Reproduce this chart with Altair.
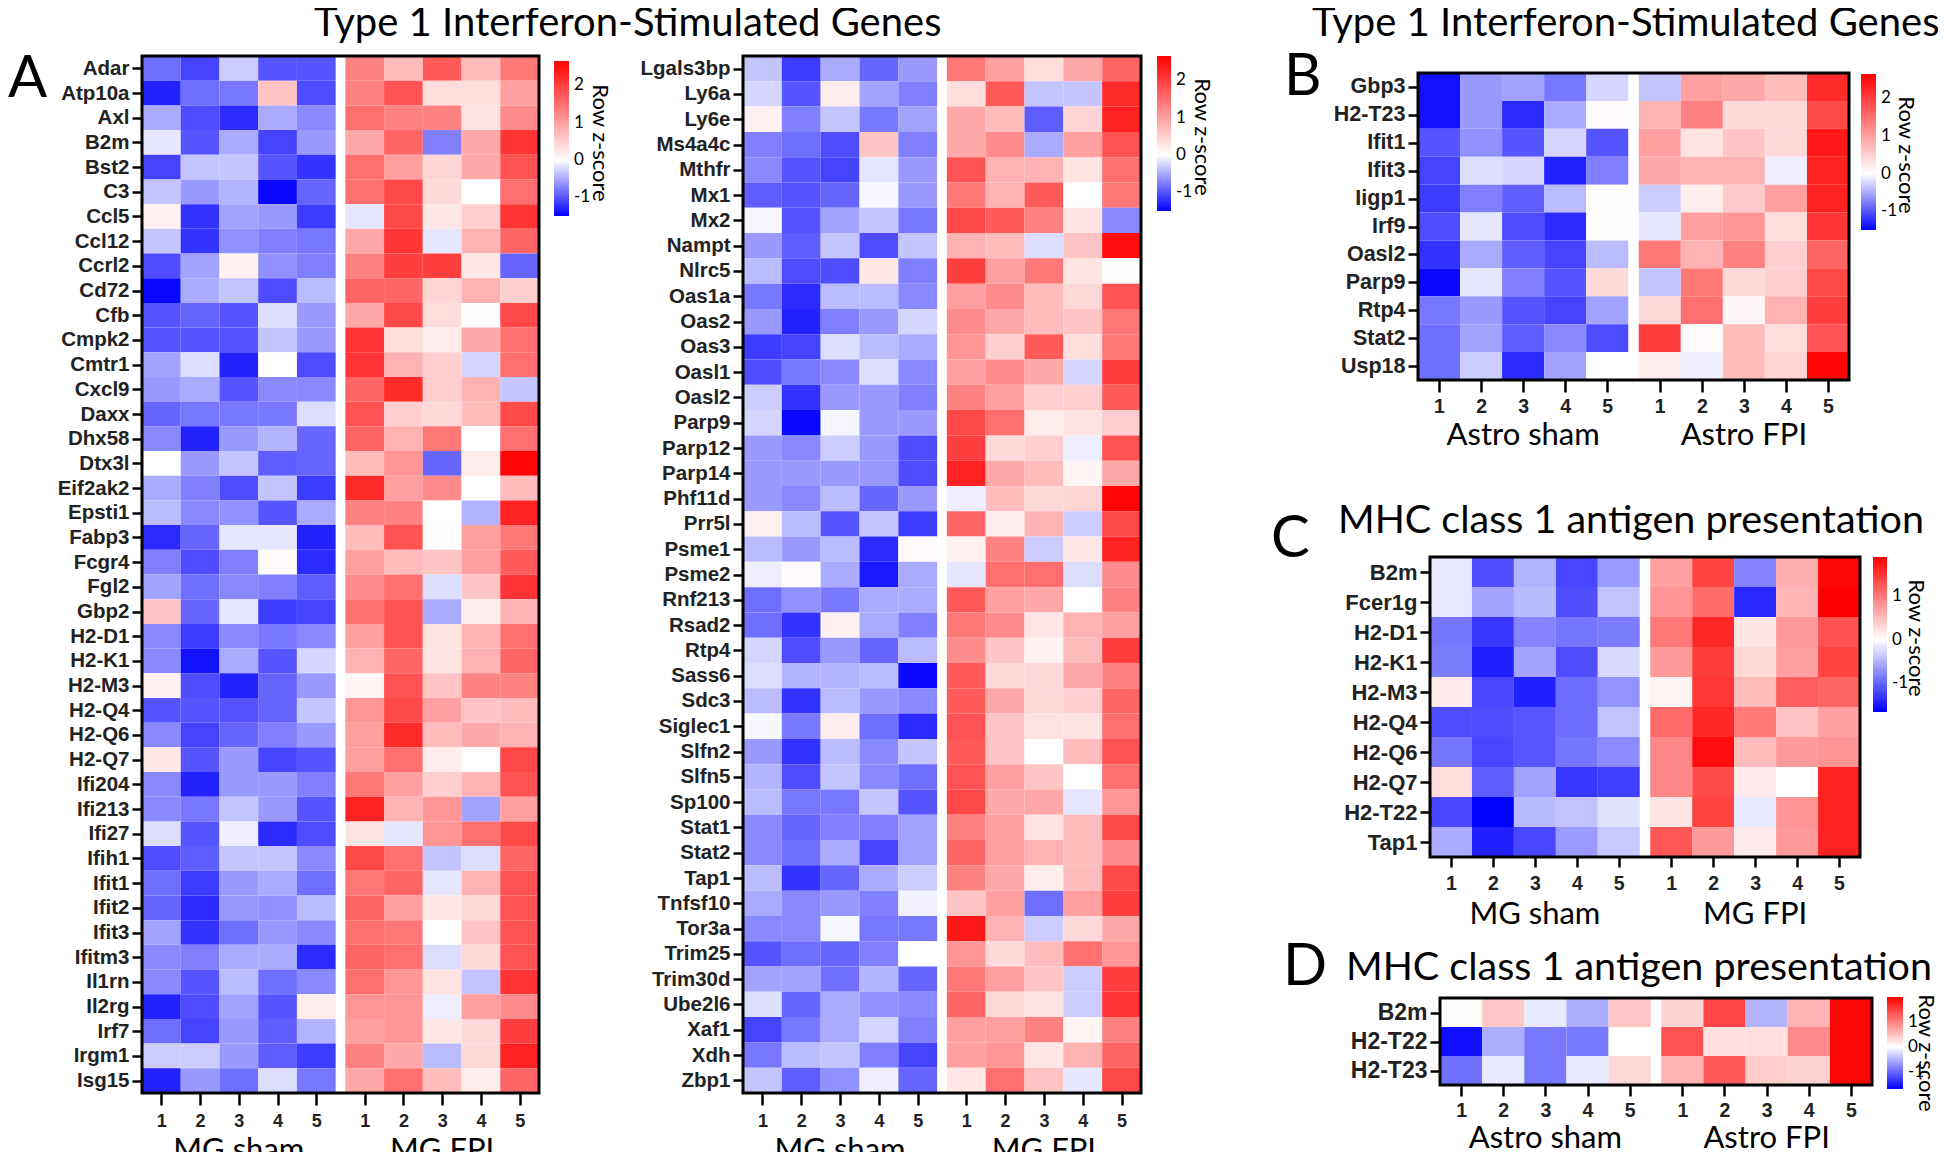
import altair as alt
import pandas as pd

W, H = 1930, 1144
OX, OY = 8, 8
GAP = 0.25
BLUE, WHITE, RED = "#0000ff", "#ffffff", "#ff0000"

# ---------------- data ----------------
A1_GENES = ["Adar", "Atp10a", "Axl", "B2m", "Bst2", "C3", "Ccl5", "Ccl12", "Ccrl2", "Cd72",
            "Cfb", "Cmpk2", "Cmtr1", "Cxcl9", "Daxx", "Dhx58", "Dtx3l", "Eif2ak2", "Epsti1",
            "Fabp3", "Fcgr4", "Fgl2", "Gbp2", "H2-D1", "H2-K1", "H2-M3", "H2-Q4", "H2-Q6",
            "H2-Q7", "Ifi204", "Ifi213", "Ifi27", "Ifih1", "Ifit1", "Ifit2", "Ifit3", "Ifitm3",
            "Il1rn", "Il2rg", "Irf7", "Irgm1", "Isg15"]
A1_SHAM = [
    [-0.85, -1.1, -0.3, -1.0, -1.0], [-1.3, -0.85, -0.8, 0.6, -1.05], [-0.5, -1.05, -1.25, -0.5, -0.7],
    [-0.15, -1.0, -0.5, -1.1, -0.6], [-1.1, -0.35, -0.35, -1.0, -1.2], [-0.35, -0.6, -0.45, -1.45, -0.9],
    [0.15, -1.2, -0.55, -0.6, -1.15], [-0.35, -1.2, -0.65, -0.75, -0.8], [-1.05, -0.55, 0.15, -0.65, -0.75],
    [-1.45, -0.5, -0.35, -1.05, -0.4], [-1.0, -0.9, -1.0, -0.2, -0.6], [-1.0, -1.0, -1.0, -0.35, -0.6],
    [-0.55, -0.2, -1.3, 0.0, -1.05], [-0.6, -0.5, -1.0, -0.7, -0.7], [-0.9, -0.8, -0.8, -0.8, -0.2],
    [-0.7, -1.3, -0.6, -0.45, -0.9], [0.0, -0.6, -0.35, -0.95, -0.9], [-0.5, -0.75, -1.05, -0.35, -1.15],
    [-0.4, -0.7, -0.65, -1.0, -0.5], [-1.25, -0.9, -0.15, -0.15, -1.3], [-0.75, -1.05, -0.75, 0.05, -1.25],
    [-0.55, -0.85, -0.7, -0.75, -0.95], [0.6, -0.9, -0.15, -1.15, -1.1], [-0.7, -1.15, -0.7, -0.8, -0.7],
    [-0.7, -1.4, -0.5, -1.0, -0.25], [0.15, -1.05, -1.3, -0.9, -0.6], [-1.0, -1.0, -1.0, -0.9, -0.35],
    [-0.7, -1.1, -0.9, -0.75, -0.6], [0.25, -1.0, -0.6, -1.1, -1.0], [-0.7, -1.3, -0.6, -0.6, -0.75],
    [-0.7, -0.8, -0.35, -0.6, -1.0], [-0.2, -1.0, -0.1, -1.25, -1.05], [-1.05, -0.95, -0.35, -0.35, -0.7],
    [-0.85, -1.15, -0.6, -0.5, -0.85], [-0.9, -1.25, -0.6, -0.65, -0.4], [-0.55, -1.2, -0.85, -0.6, -0.7],
    [-0.7, -0.75, -0.5, -0.5, -1.25], [-0.7, -1.0, -0.4, -0.85, -0.7], [-1.3, -1.05, -0.55, -1.0, 0.2],
    [-0.85, -1.1, -0.6, -0.95, -0.45], [-0.3, -0.3, -0.6, -0.95, -1.15], [-1.3, -0.6, -0.85, -0.2, -0.8],
]
A1_FPI = [
    [1.3, 0.7, 1.7, 0.7, 1.4], [1.3, 1.8, 0.35, 0.35, 1.0], [1.5, 1.3, 1.3, 0.3, 1.2],
    [0.9, 1.6, -0.75, 0.9, 2.1], [1.5, 1.0, 0.45, 0.9, 1.8], [1.5, 1.9, 0.4, 0.0, 1.5],
    [-0.15, 1.9, 0.25, 0.5, 2.1], [0.9, 2.1, -0.15, 0.8, 1.6], [1.3, 2.0, 2.0, 0.25, -0.9],
    [1.6, 1.6, 0.45, 0.8, 0.5], [0.9, 1.9, 0.35, 0.02, 1.9], [2.1, 0.35, 0.2, 0.9, 1.5],
    [2.1, 0.8, 0.5, -0.25, 1.5], [1.6, 2.2, 0.5, 0.8, -0.35], [1.8, 0.5, 0.4, 0.7, 1.9],
    [1.6, 0.8, 1.4, 0.0, 1.5], [0.7, 1.1, -0.9, 0.2, 2.6], [2.2, 1.0, 1.2, 0.0, 0.7],
    [1.3, 1.3, 0.0, -0.45, 2.3], [0.7, 1.8, 0.02, 1.0, 1.4], [1.0, 0.7, 0.6, 1.0, 1.7],
    [1.2, 1.5, -0.2, 0.6, 2.1], [1.5, 1.8, -0.5, 0.2, 0.8], [1.0, 1.8, 0.3, 0.8, 1.5],
    [0.8, 1.6, 0.3, 0.8, 1.6], [0.1, 1.8, 0.6, 1.3, 1.3], [1.1, 1.9, 1.0, 0.6, 0.7],
    [1.0, 2.2, 0.7, 0.9, 0.8], [1.0, 1.5, 0.2, 0.0, 1.9], [1.4, 1.0, 0.5, 0.8, 1.8],
    [2.3, 0.8, 1.1, -0.55, 1.0], [0.3, -0.15, 1.1, 1.5, 1.9], [1.9, 1.5, -0.35, -0.2, 1.6],
    [1.4, 1.6, -0.15, 0.8, 1.8], [1.6, 1.0, 0.25, 0.4, 1.8], [1.5, 1.4, 0.0, 0.6, 1.8],
    [1.6, 1.5, -0.2, 0.4, 1.8], [1.5, 1.1, 0.3, -0.35, 2.1], [1.1, 1.1, -0.1, 1.0, 1.2],
    [1.0, 1.1, 0.25, 0.4, 2.0], [1.3, 0.9, -0.4, 0.4, 2.3], [0.9, 1.5, 0.7, 0.2, 1.6],
]

A2_GENES = ["Lgals3bp", "Ly6a", "Ly6e", "Ms4a4c", "Mthfr", "Mx1", "Mx2", "Nampt", "Nlrc5", "Oas1a",
            "Oas2", "Oas3", "Oasl1", "Oasl2", "Parp9", "Parp12", "Parp14", "Phf11d", "Prr5l",
            "Psme1", "Psme2", "Rnf213", "Rsad2", "Rtp4", "Sass6", "Sdc3", "Siglec1", "Slfn2",
            "Slfn5", "Sp100", "Stat1", "Stat2", "Tap1", "Tnfsf10", "Tor3a", "Trim25", "Trim30d",
            "Ube2l6", "Xaf1", "Xdh", "Zbp1"]
A2_SHAM = [
    [-0.35, -1.15, -0.5, -0.9, -0.6], [-0.25, -1.0, 0.2, -0.55, -0.75], [0.15, -0.75, -0.35, -0.8, -0.55],
    [-0.75, -0.85, -1.05, 0.6, -0.75], [-0.7, -1.0, -1.1, -0.15, -0.6], [-0.95, -1.0, -0.9, -0.05, -0.6],
    [-0.05, -1.0, -0.55, -0.35, -0.8], [-0.6, -0.95, -0.35, -1.05, -0.35], [-0.4, -1.05, -1.05, 0.25, -0.75],
    [-0.8, -1.25, -0.4, -0.4, -0.7], [-0.6, -1.3, -0.75, -0.6, -0.25], [-1.15, -1.1, -0.2, -0.4, -0.5],
    [-1.05, -0.8, -0.7, -0.2, -0.7], [-0.3, -1.2, -0.6, -0.6, -0.75], [-0.25, -1.45, -0.05, -0.6, -0.6],
    [-0.6, -0.7, -0.3, -0.6, -1.05], [-0.6, -0.6, -0.6, -0.6, -1.05], [-0.6, -0.7, -0.4, -0.9, -0.6],
    [0.15, -0.4, -1.0, -0.35, -1.15], [-0.4, -0.6, -0.4, -1.25, 0.05], [-0.1, 0.05, -0.5, -1.35, -0.5],
    [-0.85, -0.65, -0.8, -0.5, -0.5], [-0.85, -1.2, 0.15, -0.5, -0.75], [-0.25, -1.05, -0.6, -0.9, -0.4],
    [-0.2, -0.45, -0.45, -0.4, -1.45], [-0.4, -1.2, -0.4, -0.6, -0.7], [-0.05, -0.8, 0.2, -0.85, -1.25],
    [-0.6, -1.2, -0.4, -0.7, -0.35], [-0.45, -1.05, -0.35, -0.7, -0.85], [-0.4, -0.8, -0.8, -0.35, -1.0],
    [-0.7, -0.9, -0.75, -0.75, -0.55], [-0.7, -0.85, -0.5, -1.1, -0.55], [-0.4, -1.2, -0.9, -0.5, -0.3],
    [-0.5, -0.7, -0.6, -0.75, -0.08], [-0.7, -0.7, -0.05, -0.8, -0.8], [-1.0, -0.85, -0.9, -0.75, 0.0],
    [-0.55, -0.55, -0.85, -0.45, -0.9], [-0.2, -0.9, -0.5, -0.65, -0.7], [-1.1, -0.8, -0.5, -0.25, -0.75],
    [-0.8, -0.4, -0.35, -0.75, -1.1], [-0.35, -0.95, -0.65, -0.1, -0.9],
]
A2_FPI = [
    [1.4, 1.0, 0.35, 0.9, 1.6], [0.35, 1.7, -0.35, -0.35, 2.2], [0.9, 0.7, -0.95, 0.45, 2.3],
    [0.9, 1.2, -0.5, 1.0, 1.8], [1.8, 0.8, 0.8, 0.3, 1.5], [1.4, 0.8, 1.7, 0.0, 1.4],
    [1.9, 1.7, 1.3, 0.3, -0.7], [0.8, 0.7, -0.2, 0.6, 2.5], [2.0, 1.0, 1.4, 0.3, 0.02],
    [1.0, 1.2, 0.7, 0.4, 1.8], [1.2, 0.9, 0.7, 0.6, 1.4], [1.1, 0.5, 1.7, 0.35, 1.4],
    [1.0, 1.2, 0.9, -0.25, 2.0], [1.3, 1.0, 0.5, 0.5, 1.7], [1.9, 1.5, 0.2, 0.3, 0.5],
    [2.0, 0.4, 0.5, -0.1, 1.8], [2.3, 0.9, 0.7, 0.1, 0.9], [-0.1, 0.7, 0.4, 0.45, 2.6],
    [1.6, 0.2, 0.8, -0.3, 1.9], [0.15, 1.3, -0.3, 0.25, 2.3], [-0.15, 1.5, 1.5, -0.2, 1.2],
    [1.7, 1.0, 0.9, 0.0, 1.3], [1.4, 1.2, 0.25, 0.8, 1.0], [1.2, 0.6, 0.15, 0.7, 2.0],
    [1.7, 0.4, 0.4, 0.9, 1.3], [1.7, 0.9, 0.4, 0.5, 1.6], [1.8, 0.6, 0.3, 0.3, 1.5],
    [1.7, 0.6, 0.0, 0.7, 1.8], [1.8, 1.0, 0.6, 0.0, 1.5], [1.9, 0.9, 0.9, -0.15, 1.1],
    [1.3, 1.0, 0.3, 0.7, 1.9], [1.6, 1.0, 0.8, 0.7, 1.2], [1.3, 0.9, 0.2, 0.7, 1.9],
    [0.6, 1.0, -0.85, 1.0, 2.0], [2.4, 0.8, -0.3, 0.4, 0.9], [1.1, 0.4, 0.7, 1.5, 1.1],
    [1.4, 1.0, 0.6, -0.3, 2.0], [1.6, 0.4, 0.3, -0.3, 2.1], [1.0, 1.0, 1.3, 0.1, 1.3],
    [1.0, 1.1, 0.25, 0.8, 1.6], [0.25, 1.5, 0.6, -0.15, 1.9],
]

B_GENES = ["Gbp3", "H2-T23", "Ifit1", "Ifit3", "Iigp1", "Irf9", "Oasl2", "Parp9", "Rtp4", "Stat2", "Usp18"]
B_SHAM = [
    [-1.4, -0.6, -0.55, -0.8, -0.25], [-1.4, -0.6, -1.25, -0.5, 0.05], [-1.0, -0.65, -1.0, -0.25, -1.0],
    [-1.1, -0.2, -0.25, -1.3, -0.75], [-1.15, -0.75, -0.95, -0.4, 0.02], [-1.05, -0.15, -1.05, -1.25, 0.02],
    [-1.2, -0.5, -0.95, -1.1, -0.4], [-1.45, -0.15, -0.75, -1.0, 0.4], [-0.8, -0.6, -1.0, -1.1, -0.55],
    [-0.85, -0.55, -0.95, -0.7, -1.05], [-0.85, -0.3, -1.25, -0.55, 0.0],
]
B_FPI = [
    [-0.35, 1.0, 0.9, 0.7, 2.2], [0.8, 1.3, 0.4, 0.4, 1.9], [1.0, 0.3, 0.6, 0.4, 2.4],
    [0.9, 0.8, 0.8, -0.1, 2.3], [-0.3, 0.2, 0.55, 1.0, 2.3], [-0.15, 1.0, 1.1, 0.35, 2.1],
    [1.4, 0.8, 1.3, 0.5, 1.6], [-0.35, 1.4, 0.4, 0.5, 1.9], [0.4, 1.5, 0.08, 0.8, 2.0],
    [2.0, 0.05, 0.7, 0.35, 1.8], [0.2, -0.1, 0.7, 0.45, 2.6],
]

C_GENES = ["B2m", "Fcer1g", "H2-D1", "H2-K1", "H2-M3", "H2-Q4", "H2-Q6", "H2-Q7", "H2-T22", "Tap1"]
C_SHAM = [
    [-0.15, -1.15, -0.5, -1.2, -0.65], [-0.15, -0.6, -0.45, -1.15, -0.4], [-0.9, -1.3, -0.8, -0.9, -0.85],
    [-0.85, -1.45, -0.6, -1.15, -0.25], [0.15, -1.2, -1.45, -0.95, -0.7], [-1.15, -1.15, -1.1, -0.95, -0.4],
    [-0.9, -1.2, -1.1, -0.9, -0.75], [0.25, -1.05, -0.6, -1.3, -1.25], [-1.2, -1.65, -0.45, -0.4, -0.2],
    [-0.55, -1.45, -1.2, -0.65, -0.35],
]
C_FPI = [
    [0.7, 1.4, -0.8, 0.6, 1.85], [0.8, 1.1, -1.4, 0.55, 1.9], [1.0, 1.6, 0.2, 0.75, 1.3],
    [0.75, 1.45, 0.3, 0.7, 1.4], [0.1, 1.5, 0.5, 1.2, 1.15], [1.1, 1.6, 1.0, 0.45, 0.7],
    [0.9, 1.8, 0.5, 0.75, 0.8], [0.9, 1.35, 0.15, 0.0, 1.65], [0.2, 1.4, -0.15, 0.8, 1.65],
    [1.25, 0.75, 0.15, 0.75, 1.65],
]

D_GENES = ["B2m", "H2-T22", "H2-T23"]
D_SHAM = [[0.02, 0.45, -0.15, -0.55, 0.45], [-1.6, -0.55, -0.9, -0.9, 0.0], [-0.95, -0.15, -0.9, -0.15, 0.3]]
D_FPI = [[0.35, 1.45, -0.5, 0.6, 1.95], [1.35, 0.25, 0.25, 0.9, 1.95], [0.6, 1.3, 0.4, 0.35, 1.95]]

MG_GROUPS = ["MG sham", "MG FPI"]
ASTRO_GROUPS = ["Astro sham", "Astro FPI"]
TITLE_ISG = "Type 1 Interferon-Stimulated Genes"
TITLE_MHC = "MHC class 1 antigen presentation"
LEGEND_TITLE = "Row z-score"


def build_cells(genes, sham, fpi):
    rows = []
    for i, g in enumerate(genes):
        for j in range(5):
            rows.append({"gene": g, "x0": j, "x1": j + 1, "y0": i, "y1": i + 1, "z": sham[i][j]})
            rows.append({"gene": g, "x0": 5 + GAP + j, "x1": 6 + GAP + j, "y0": i, "y1": i + 1, "z": fpi[i][j]})
    return pd.DataFrame(rows)


def label(text, x, y, size, align="left", angle=0, baseline="alphabetic"):
    return alt.Chart(alt.Data(values=[{}])).mark_text(
        text=text, font="Lato", fontSize=size, align=align, baseline=baseline, angle=angle,
        color="black").encode(x=alt.value(x - OX), y=alt.value(y - OY))


def panel(genes, sham, fpi, groups, box, zdom, zvals, leg, label_size, num_size,
          num_pad, xtick, group_base, ltitle):
    left, top, right, bottom = box
    n = len(genes)
    xs = alt.Scale(domain=[0, 10 + GAP], range=[left - OX, right - OX], nice=False, zero=False)
    ys = alt.Scale(domain=[0, n], range=[top - OY, bottom - OY], nice=False, zero=False)
    cs = alt.Scale(domain=[zdom[0], 0, zdom[1]], range=[BLUE, WHITE, RED],
                   interpolate="rgb", clamp=True)
    ylab = "[" + ",".join("'%s'" % g for g in genes) + "][floor(datum.value)]"
    xlab = ("datum.value < 5 ? '' + (floor(datum.value) + 1) : "
            "'' + (floor(datum.value - %s) - 4)" % GAP)
    xvals = [j + 0.5 for j in range(5)] + [5 + GAP + j + 0.5 for j in range(5)]
    yvals = [i + 0.5 for i in range(n)]
    xaxis = alt.Axis(orient="bottom", offset=(bottom - OY) - H, values=xvals, labelExpr=xlab,
                     grid=False, domain=False, tickSize=xtick, tickWidth=2.5, tickColor="black",
                     labelFont="Liberation Sans", labelFontWeight="bold", labelFontSize=num_size,
                     labelColor="#222222", labelPadding=num_pad, labelAngle=0, title=None,
                     labelOverlap=False)
    yaxis = alt.Axis(orient="left", offset=-(left - OX), values=yvals, labelExpr=ylab,
                     grid=False, domain=False, tickSize=10, tickWidth=2.5, tickColor="black",
                     labelFont="Liberation Sans", labelFontWeight="bold", labelFontSize=label_size,
                     labelColor="#222222", labelPadding=3, title=None, labelOverlap=False)
    lx, ly, llen, lth = leg
    legend = alt.Legend(type="gradient", orient="none", legendX=lx - OX, legendY=ly - OY,
                        direction="vertical", gradientLength=llen, gradientThickness=lth,
                        values=zvals, labelExpr="'' + datum.value", labelFont="Lato",
                        labelFontSize=17, labelOffset=5, labelOverlap=False, labelColor="black",
                        title=None, padding=0, gradientStrokeWidth=0)
    cells_df = build_cells(genes, sham, fpi)
    cells = alt.Chart(cells_df).mark_rect().encode(
        x=alt.X("x0:Q", scale=xs, axis=xaxis),
        x2="x1:Q",
        y=alt.Y("y0:Q", scale=ys, axis=yaxis),
        y2="y1:Q",
        color=alt.Color("z:Q", scale=cs, legend=legend),
    )
    frame_df = pd.DataFrame({"fx0": [cells_df["x0"].min()], "fx1": [cells_df["x1"].max()],
                             "fy0": [cells_df["y0"].min()], "fy1": [cells_df["y1"].max()]})
    frame = alt.Chart(frame_df).mark_rect(filled=False, color="black", strokeWidth=3).encode(
        x=alt.X("fx0:Q", axis=xaxis), x2="fx1:Q", y=alt.Y("fy0:Q", axis=yaxis), y2="fy1:Q")
    grp_df = pd.DataFrame({"label": groups, "xc": [2.5, 7.5 + GAP]})
    grp = alt.Chart(grp_df).mark_text(font="Lato", fontSize=31, align="center",
                                      baseline="alphabetic", color="black").encode(
        x=alt.X("xc:Q", axis=xaxis), y=alt.value(group_base - OY), text="label:N")
    tx, ty = ltitle
    lt = label(LEGEND_TITLE, tx, ty, 22, align="center", angle=90, baseline="middle")
    return alt.layer(cells, frame, grp, lt)


pA1 = panel(A1_GENES, A1_SHAM, A1_FPI, MG_GROUPS, (142, 56, 539, 1093), (-1.5, 2.65),
            [2, 1, 0, -1], (554, 61, 155, 15), 20.5, 18, 7, 12, 1160, (600, 143))
pA2 = panel(A2_GENES, A2_SHAM, A2_FPI, MG_GROUPS, (743, 56, 1141, 1093), (-1.5, 2.65),
            [2, 1, 0, -1], (1157, 56, 155, 14), 20.5, 18, 7, 12, 1160, (1202, 137))
pB = panel(B_GENES, B_SHAM, B_FPI, ASTRO_GROUPS, (1418, 73, 1849, 380), (-1.5, 2.65),
           [2, 1, 0, -1], (1861, 74, 156, 15), 21.5, 19.5, 5, 12, 445, (1906, 155))
pC = panel(C_GENES, C_SHAM, C_FPI, MG_GROUPS, (1430, 557, 1860, 857), (-1.66, 1.9),
           [1, 0, -1], (1873, 557, 155, 14), 22, 19.5, 7, 10, 924, (1916, 638))
pD = panel(D_GENES, D_SHAM, D_FPI, ASTRO_GROUPS, (1440, 998, 1872, 1085), (-1.7, 2.0),
           [1, 0, -1], (1887, 997, 92, 16), 23, 19.5, 5, 11, 1148, (1926, 1053))

texts = [
    label(TITLE_ISG, 314, 36, 40),
    label(TITLE_ISG, 1312, 36, 40),
    label(TITLE_MHC, 1338, 533, 39.5),
    label(TITLE_MHC, 1346, 980, 39.5),
    label("A", 8, 97, 58),
    label("B", 1284, 95, 58),
    label("C", 1271, 557, 58),
    label("D", 1283, 985, 58),
]

chart = alt.layer(pA1, pA2, pB, pC, pD, *texts).resolve_scale(
    x="independent", y="independent", color="independent"
).properties(
    width=W, height=H, padding=0, autosize=alt.AutoSizeParams(type="none")
).configure_view(stroke=None)

chart.save("out.html", embed_options={"renderer": "svg", "actions": False})
